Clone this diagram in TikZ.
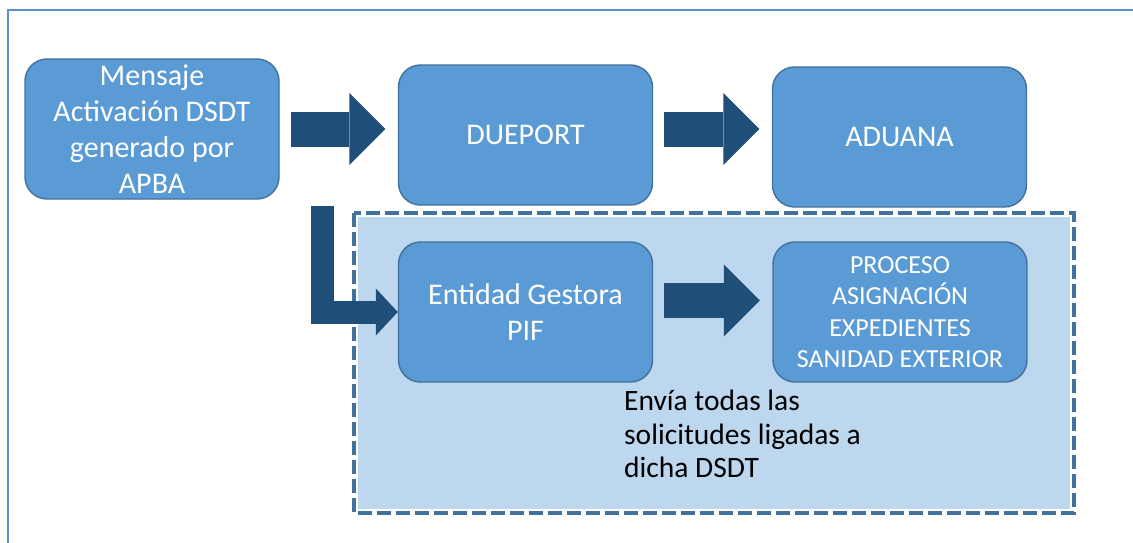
\documentclass[tikz,border=0pt]{standalone}
\usepackage{fontspec}
\setmainfont{Carlito}
\usetikzlibrary{arrows.meta}

\definecolor{boxfill}{HTML}{5B9BD5}
\definecolor{boxline}{HTML}{41719C}
\definecolor{arrowblue}{HTML}{1F4E79}
\definecolor{groupfill}{HTML}{BDD7EE}
\definecolor{frameblue}{HTML}{5B8FD0}

\tikzset{
  procbox/.style={draw=boxline, fill=boxfill, line width=1.4pt, rounded corners=22pt,
    minimum width=254pt, minimum height=140pt, inner sep=0pt, text=white, align=center,
    font=\fontsize{30pt}{36pt}\selectfont},
  smallbox/.style={procbox, font=\fontsize{26pt}{31.5pt}\selectfont},
  groupbox/.style={fill=groupfill, draw=white, line width=4pt, minimum width=716pt,
    minimum height=296pt, inner sep=0pt},
  groupdash/.style={draw=boxline, line width=4pt, dash pattern=on 14pt off 5pt},
  notetext/.style={text=black, align=left, inner sep=0pt,
    font=\fontsize{29.5pt}{33.5pt}\selectfont},
  blockarrow/.style={draw=arrowblue, line width=35pt, shorten <=11pt, shorten >=12.5pt,
    -{Triangle[length=36pt, width=72pt, line width=0pt]}},
  lblockarrow/.style={draw=arrowblue, line width=23pt,
    -{Triangle[length=22pt, width=47pt, line width=0pt]}}
}

\begin{document}
\begin{tikzpicture}[x=1pt, y=-1pt]
  \useasboundingbox (0,0) rectangle (1133,543);
  \draw[frameblue, line width=1.5pt] (8,543) -- (8,10) -- (1133,10);

  % zona PIF
  \node[groupbox] (pif) at (714,363) {};
  \draw[groupdash] (pif.north west) rectangle (pif.south east);

  \node[procbox]   (msg)      at (152,129)   {Mensaje\\Activación DSDT\\generado por\\APBA};
  \node[procbox]   (dueport)  at (525.5,135) {DUEPORT};
  \node[procbox]   (aduana)   at (899.5,137) {ADUANA};
  \node[procbox]   (entidad)  at (525.5,312) {Entidad Gestora\\PIF};
  \node[smallbox]  (proceso)  at (900,312)   {PROCESO\\ASIGNACIÓN\\EXPEDIENTES\\SANIDAD EXTERIOR};
  \node[notetext, anchor=west] (nota) at (624,434) {Envía todas las\\solicitudes ligadas a\\dicha DSDT};

  \coordinate (lstart) at (322.5,206);
  \coordinate (a3) at ([yshift=11.5pt]entidad.east);

  \draw[blockarrow] (msg.east) -- (msg.east -| dueport.west);
  \draw[blockarrow] (dueport.east |- msg.east) -- (aduana.west |- msg.east);
  \draw[blockarrow] (a3) -- (a3 -| proceso.west);
  \draw[lblockarrow] (lstart) |- (entidad.west);
\end{tikzpicture}
\end{document}
